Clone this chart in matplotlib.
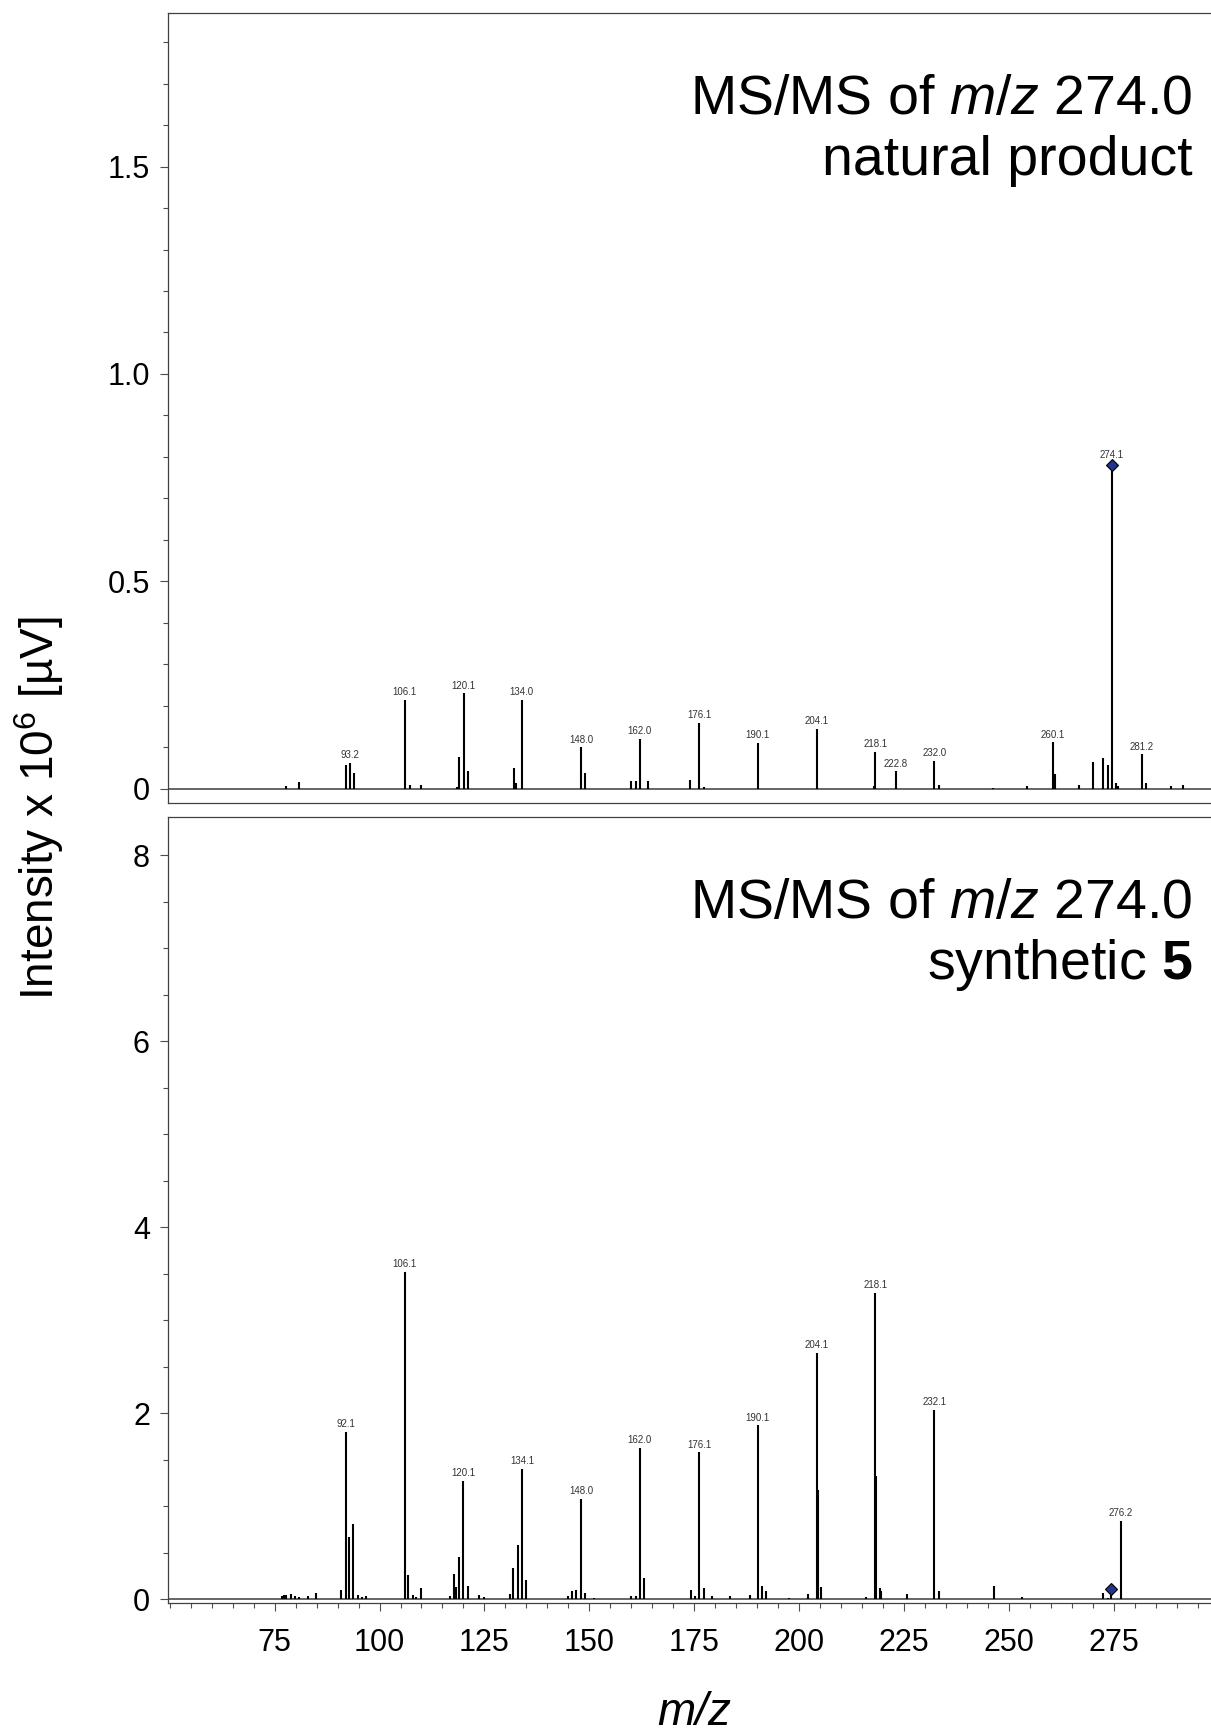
import matplotlib
matplotlib.use('Agg')
import matplotlib.pyplot as plt
from matplotlib.ticker import MultipleLocator
import numpy as np

plt.rcParams['font.family'] = ['Liberation Sans', 'DejaVu Sans']
plt.rcParams['mathtext.fontset'] = 'custom'
plt.rcParams['mathtext.rm'] = 'Liberation Sans'
plt.rcParams['mathtext.it'] = 'Liberation Sans:italic'
plt.rcParams['mathtext.bf'] = 'Liberation Sans:bold'

# natural product, intensity x 10^6
nat_mz = [77.8, 80.9, 91.9, 92.9, 93.9, 106.0, 107.2, 110.0, 118.5, 119.0,
          120.1, 121.0, 132.1, 132.6, 133.9, 148.0, 149.0, 160.0, 161.0, 162.0,
          164.0, 174.0, 176.2, 177.3, 190.1, 204.2, 217.9, 218.1, 223.0, 232.2,
          233.3, 246.2, 254.3, 260.4, 260.9, 266.6, 270.0, 272.4, 273.6, 274.5,
          275.6, 276.0, 281.6, 282.6, 288.6, 291.5]
nat_int = [0.008, 0.017, 0.058, 0.062, 0.039, 0.214, 0.010, 0.010, 0.004, 0.076,
           0.230, 0.043, 0.051, 0.014, 0.214, 0.100, 0.038, 0.018, 0.018, 0.120,
           0.018, 0.022, 0.160, 0.004, 0.110, 0.145, 0.008, 0.090, 0.042, 0.067,
           0.010, 0.002, 0.006, 0.112, 0.035, 0.010, 0.066, 0.075, 0.058, 0.780,
           0.015, 0.006, 0.083, 0.015, 0.008, 0.010]
nat_lab_mz = [92.9, 106.0, 120.1, 133.9, 148.0, 162.0, 176.2, 190.1, 204.2,
              218.1, 223.0, 232.2, 260.4, 274.5, 281.6]
nat_lab_txt = ['93.2', '106.1', '120.1', '134.0', '148.0', '162.0', '176.1',
               '190.1', '204.1', '218.1', '222.8', '232.0', '260.1', '274.1', '281.2']
nat_prec = (274.5, 0.78)

# synthetic 5, intensity x 10^6
syn_mz = [76.8, 77.3, 77.7, 78.9, 79.8, 80.9, 83.0, 84.9, 90.9, 92.0,
          92.8, 93.8, 94.8, 95.8, 96.8, 106.0, 106.9, 107.9, 108.8, 110.0,
          116.8, 117.8, 118.2, 118.9, 120.0, 121.0, 123.8, 124.9, 131.0, 131.9,
          133.0, 134.0, 134.9, 144.8, 145.8, 146.9, 148.0, 148.9, 151.0, 160.0,
          161.0, 162.0, 163.1, 174.1, 175.1, 176.2, 177.2, 179.2, 183.6, 188.2,
          190.1, 191.2, 192.2, 197.6, 202.2, 204.2, 204.5, 205.2, 216.0, 218.1,
          218.4, 219.2, 219.6, 225.8, 232.2, 233.2, 246.3, 253.2, 272.5, 273.6,
          274.4, 276.6]
syn_int = [0.04, 0.05, 0.045, 0.06, 0.035, 0.025, 0.03, 0.07, 0.10, 1.80,
           0.67, 0.81, 0.05, 0.02, 0.035, 3.52, 0.26, 0.05, 0.02, 0.125,
           0.03, 0.27, 0.13, 0.45, 1.27, 0.14, 0.047, 0.02, 0.054, 0.34,
           0.58, 1.40, 0.21, 0.036, 0.09, 0.10, 1.08, 0.065, 0.01, 0.036,
           0.04, 1.63, 0.23, 0.10, 0.04, 1.58, 0.12, 0.03, 0.03, 0.05,
           1.87, 0.14, 0.09, 0.01, 0.054, 2.65, 1.18, 0.13, 0.02, 3.29,
           1.32, 0.12, 0.09, 0.054, 2.04, 0.09, 0.14, 0.02, 0.07, 0.01,
           0.06, 0.84]
syn_lab_mz = [92.0, 106.0, 120.0, 134.0, 148.0, 162.0, 176.2, 190.1, 204.2,
              218.1, 232.2, 276.6]
syn_lab_txt = ['92.1', '106.1', '120.1', '134.1', '148.0', '162.0', '176.1',
               '190.1', '204.1', '218.1', '232.1', '276.2']
syn_prec = (274.4, 0.11)

W, H = 1211, 1735
fig = plt.figure(figsize=(W / 100, H / 100), dpi=100)


def draw_spectrum(ax, mz, inten, lab_mz, lab_txt, prec):
    mz = np.array(mz)
    inten = np.array(inten)
    ax.axhline(0, color='0.35', lw=1.3, zorder=1)
    ax.vlines(mz, 0, inten, color='black', lw=1.5, zorder=2)
    ax.plot([prec[0]], [prec[1]], marker='D', ms=6.5, mfc='#24348c',
            mec='black', mew=0.8, ls='none', zorder=4)
    for m, t in zip(lab_mz, lab_txt):
        h = inten[np.isclose(mz, m)][0]
        off = 2
        if abs(m - prec[0]) < 0.3 and prec[1] > h * 0.8:
            h = prec[1]
            off = 4
        ax.annotate(t, (m, h), xytext=(0, off), textcoords='offset points',
                    ha='center', va='bottom', fontsize=7, color='0.2')
    ax.spines['right'].set_visible(False)
    for s in ['top', 'left', 'bottom']:
        ax.spines[s].set_color('0.25')
        ax.spines[s].set_linewidth(0.9)
    ax.tick_params(axis='y', which='major', length=6, width=0.8, color='0.3',
                   labelsize=22, pad=7)
    ax.tick_params(axis='y', which='minor', length=3.5, width=0.8, color='0.3')
    ax.set_xlim(49.6, 298.7)


ax1 = fig.add_axes([168 / W, 1 - 803 / H, 1 - 168 / W + 0.002, (803 - 13) / H])
draw_spectrum(ax1, nat_mz, nat_int, nat_lab_mz, nat_lab_txt, nat_prec)
ax1.set_ylim(-0.034, 1.87)
ax1.set_yticks([0, 0.5, 1.0, 1.5])
ax1.set_yticklabels(['0', '0.5', '1.0', '1.5'])
ax1.yaxis.set_minor_locator(MultipleLocator(0.1))
ax1.tick_params(axis='x', which='both', bottom=False, labelbottom=False)

ax2 = fig.add_axes([168 / W, 1 - 1603 / H, 1 - 168 / W + 0.002, (1603 - 817) / H])
draw_spectrum(ax2, syn_mz, syn_int, syn_lab_mz, syn_lab_txt, syn_prec)
ax2.set_ylim(-0.04, 8.41)
ax2.set_yticks([0, 2, 4, 6, 8])
ax2.yaxis.set_minor_locator(MultipleLocator(0.5))
ax2.set_xticks(range(75, 300, 25))
ax2.xaxis.set_minor_locator(MultipleLocator(5))
ax2.tick_params(axis='x', which='major', length=6, width=0.8, color='0.3',
                labelsize=22, pad=12)
ax2.tick_params(axis='x', which='minor', length=3.5, width=0.8, color='0.3')

# panel titles
fig.text(1193 / W, 1 - 114 / H, 'MS/MS of $m$/$z$ 274.0', ha='right',
         va='baseline', fontsize=40)
fig.text(1193 / W, 1 - 175 / H, 'natural product', ha='right',
         va='baseline', fontsize=40)
fig.text(1193 / W, 1 - 918 / H, 'MS/MS of $m$/$z$ 274.0', ha='right',
         va='baseline', fontsize=40)
fig.text(1193 / W, 1 - 979 / H, r'synthetic $\mathbf{5}$', ha='right',
         va='baseline', fontsize=40)

fig.text(39 / W, 1 - 808 / H, 'Intensity x 10$^{6}$ [\u00b5V]', rotation=90,
         ha='center', va='center', fontsize=33)
fig.text(694 / W, 1 - 1725 / H, 'm/z', style='italic', ha='center',
         va='baseline', fontsize=33)

fig.savefig('out.png', dpi=100)
